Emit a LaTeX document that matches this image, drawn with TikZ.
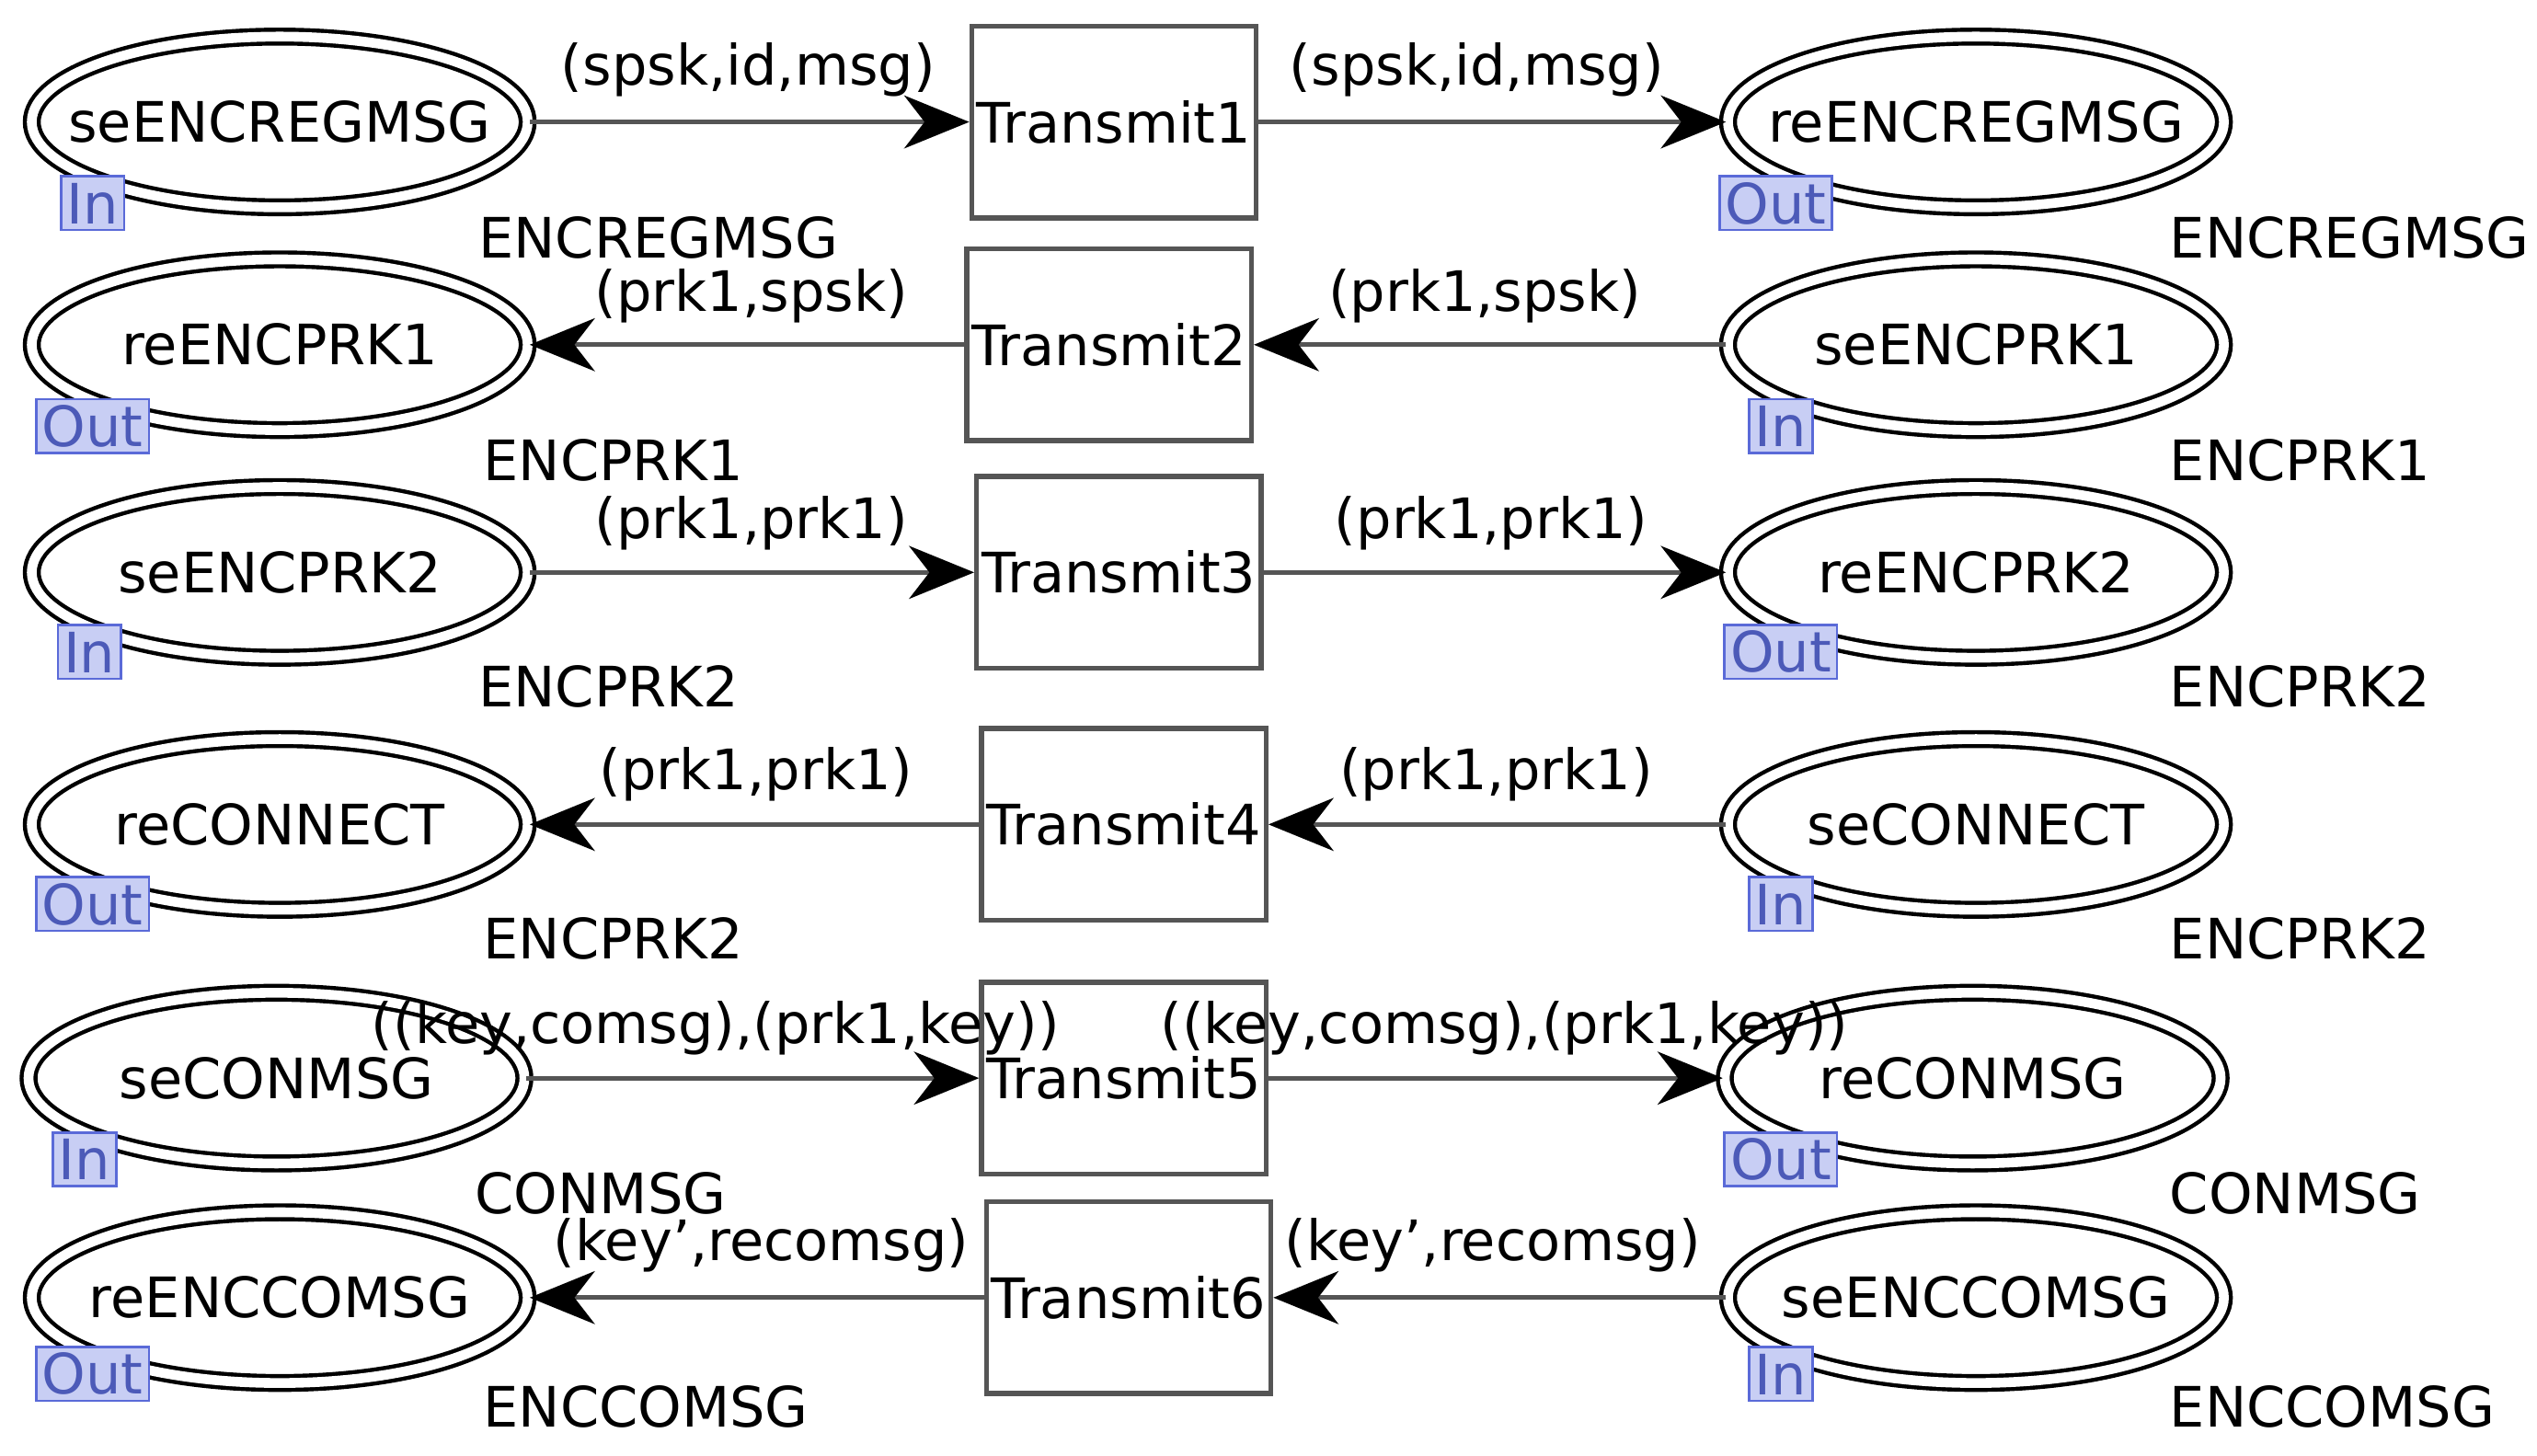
\documentclass[tikz,border=0pt]{standalone}
\usepackage{fontspec}
\setmainfont{DejaVu Sans}
\usetikzlibrary{shapes.geometric,arrows.meta}
\definecolor{tagfill}{HTML}{C8CEF4}
\definecolor{tagline}{HTML}{5A6AD8}
\definecolor{ln}{HTML}{555555}
\newcommand{\zw}[1]{\makebox[0pt]{#1}}
\begin{document}
\begin{tikzpicture}[x=0.02cm,y=-0.02cm,
  every node/.style={font=\fontsize{19.5}{21}\selectfont},
  place/.style={ellipse,draw=black,line width=0.05cm,double=white,double distance=0.12cm,minimum width=6.1cm,minimum height=2.1cm,inner sep=0pt},
  trans/.style={rectangle,draw=ln,line width=0.06cm,minimum width=3.5cm,minimum height=2.36cm,inner sep=0pt},
  tag/.style={rectangle,draw=tagline,fill=tagfill,text=tagline!85!black,line width=0.03cm,inner sep=2pt,minimum height=0.66cm},
  ty/.style={anchor=west},
  arc/.style={draw=ln,line width=0.06cm,-{Stealth[length=0.8cm,width=0.65cm,inset=0.25cm,black]}}]
\useasboundingbox (0,0) rectangle (1560,895);
\foreach \i/\y/\tx in {1/75/685,2/212/682,3/352/688,4/507/691,5/663/691,6/798/694}{
  \node[trans] (t\i) at (\tx,\y) {\zw{Transmit\i}};
}
\node[place] (l1) at (172,75) {\zw{seENCREGMSG}};
\node[place] (r1) at (1215,75) {\zw{reENCREGMSG}};
\node[place] (l2) at (172,212) {\zw{reENCPRK1}};
\node[place] (r2) at (1215,212) {\zw{seENCPRK1}};
\node[place] (l3) at (172,352) {\zw{seENCPRK2}};
\node[place] (r3) at (1215,352) {\zw{reENCPRK2}};
\node[place] (l4) at (172,507) {\zw{reCONNECT}};
\node[place] (r4) at (1215,507) {\zw{seCONNECT}};
\node[place] (l5) at (170,663) {\zw{seCONMSG}};
\node[place] (r5) at (1213,663) {\zw{reCONMSG}};
\node[place] (l6) at (172,798) {\zw{reENCCOMSG}};
\node[place] (r6) at (1215,798) {\zw{seENCCOMSG}};
\node[tag] (g1) at (57,125) {In};
\node[tag] (h1) at (1092,125) {Out};
\node[tag] (g2) at (57,262) {Out};
\node[tag] (h2) at (1095,262) {In};
\node[tag] (g3) at (55,401) {In};
\node[tag] (h3) at (1095,401) {Out};
\node[tag] (g4) at (57,556) {Out};
\node[tag] (h4) at (1095,556) {In};
\node[tag] (g5) at (52,713) {In};
\node[tag] (h5) at (1095,713) {Out};
\node[tag] (g6) at (57,845) {Out};
\node[tag] (h6) at (1095,845) {In};
\node[ty] (ty1) at (288,146) {ENCREGMSG};
\node[ty] (tz1) at (1328,146) {ENCREGMSG};
\node[ty] (ty2) at (291,283) {ENCPRK1};
\node[ty] (tz2) at (1328,283) {ENCPRK1};
\node[ty] (ty3) at (288,422) {ENCPRK2};
\node[ty] (tz3) at (1328,422) {ENCPRK2};
\node[ty] (ty4) at (291,577) {ENCPRK2};
\node[ty] (tz4) at (1328,577) {ENCPRK2};
\node[ty] (ty5) at (286,734) {CONMSG};
\node[ty] (tz5) at (1328,734) {CONMSG};
\node[ty] (ty6) at (291,865) {ENCCOMSG};
\node[ty] (tz6) at (1328,865) {ENCCOMSG};
\draw[arc] (l1) -- (t1);
\draw[arc] (t1) -- (r1);
\draw[arc] (r2) -- (t2);
\draw[arc] (t2) -- (l2);
\draw[arc] (l3) -- (t3);
\draw[arc] (t3) -- (r3);
\draw[arc] (r4) -- (t4);
\draw[arc] (t4) -- (l4);
\draw[arc] (l5) -- (t5);
\draw[arc] (t5) -- (r5);
\draw[arc] (r6) -- (t6);
\draw[arc] (t6) -- (l6);
\node (a1) at (460,43) {(spsk,id,msg)};
\node (b1) at (908,43) {(spsk,id,msg)};
\node (a2) at (462,182) {(prk1,spsk)};
\node (b2) at (913,182) {(prk1,spsk)};
\node (a3) at (462,322) {(prk1,prk1)};
\node (b3) at (917,322) {(prk1,prk1)};
\node (a4) at (465,476) {(prk1,prk1)};
\node (b4) at (920,476) {(prk1,prk1)};
\node (a5) at (440,632) {((key,comsg),(prk1,key))};
\node (b5) at (925,632) {((key,comsg),(prk1,key))};
\node (a6) at (468,766) {(key',recomsg)};
\node (b6) at (918,766) {(key',recomsg)};
\end{tikzpicture}
\end{document}
